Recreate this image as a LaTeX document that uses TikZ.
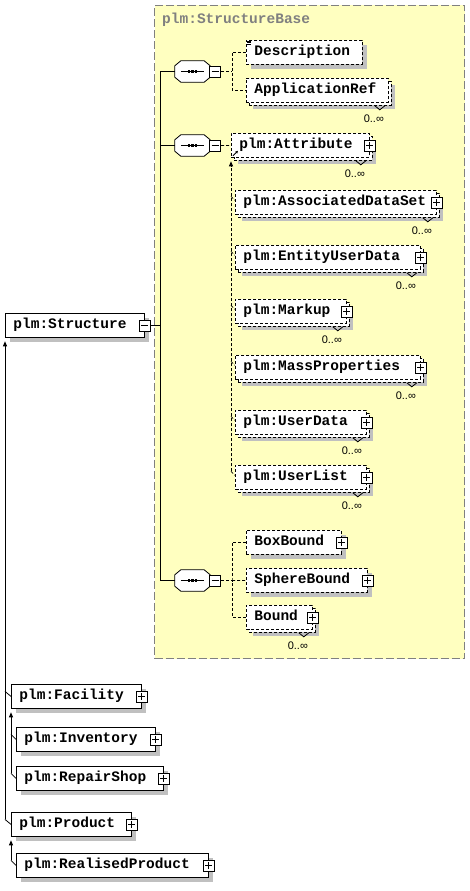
\documentclass[tikz,border=0pt]{standalone}
\usepackage{fontspec}
\usepackage{tikz}
\usetikzlibrary{arrows.meta,positioning,calc,shadows}
\newfontfamily\spymono{Liberation Mono}
\newfontfamily\spysans{Liberation Sans}
\newcommand\elemfont{\spymono\bfseries\fontsize{14.5}{16}\selectfont}
\newcommand\multfont{\spysans\fontsize{11}{12}\selectfont}
\hyphenpenalty=10000
\definecolor{SpyYellow}{HTML}{FFFFC0}
\definecolor{SpyShadow}{HTML}{C0C0C0}
\definecolor{SpyGray}{HTML}{808080}
\tikzset{
  elembase/.style={draw,fill=white,line width=0.8pt,font=\elemfont,text width=#1pt,align=left,inner xsep=8pt,inner ysep=0pt,text height=10.5pt,text depth=3.5pt,minimum height=24pt,anchor=north west},
  elembox/.style={elembase=#1,general shadow={fill=SpyShadow,shadow xshift=5pt,shadow yshift=-5pt}},
  optbox/.style={elembase=#1,dash pattern=on 3pt off 2pt,general shadow={fill=SpyShadow,shadow xshift=5pt,shadow yshift=-5pt}},
  multbox/.style={elembase=#1,dash pattern=on 3pt off 2pt,
    general shadow={fill=SpyShadow,shadow xshift=7pt,shadow yshift=-7pt},
    general shadow={fill=white,draw=black,line width=0.8pt,dash pattern=on 3pt off 2pt,shadow xshift=3pt,shadow yshift=-3pt}},
  seqbox/.style={minimum width=35pt,minimum height=21pt,inner sep=0pt},
  seqedge/.style={draw,fill=white,line width=0.8pt},
  pmbox/.style={draw,fill=white,line width=0.8pt,minimum size=11pt,inner sep=0pt},
  plusbox/.style={pmbox,path picture={\draw[line width=0.8pt] ([xshift=2pt]path picture bounding box.west) -- ([xshift=-2pt]path picture bounding box.east) ([yshift=-2pt]path picture bounding box.north) -- ([yshift=2pt]path picture bounding box.south);}},
  minusbox/.style={pmbox,path picture={\draw[line width=0.8pt] ([xshift=2pt]path picture bounding box.west) -- ([xshift=-2pt]path picture bounding box.east);}},
  basebox/.style={draw=SpyGray,fill=SpyYellow,line width=1pt,dash pattern=on 8pt off 3pt,inner sep=0pt,anchor=north west},
  basetitle/.style={font=\elemfont,text=SpyGray,anchor=base west,inner sep=0pt},
  treelink/.style={line width=0.8pt},
  optlink/.style={line width=0.8pt,dash pattern=on 3pt off 2pt},
  derivarrow/.style={line width=0.8pt,-{Triangle[length=5pt,width=4pt]},shorten >=3.5pt},
  multlabel/.style={font=\multfont,inner sep=0pt}
}
\begin{document}
\begin{tikzpicture}[x=1pt,y=-1pt]
\path[use as bounding box,fill=white] (0,0) rectangle (470,891);
\node[basebox,minimum width=310pt,minimum height=653pt] (base) at (154,5) {};
\node[basetitle] (baseT) at (162,24) {plm:StructureBase};

\node[elembox=123] (struct) at (5,313) {plm:Structure};
\node[minusbox] (struct-m) at (struct.east) {};

\node[seqbox] (seqA) at (192.5,71.5) {};
\node[seqbox] (seqB) at (192.5,145.5) {};
\node[seqbox] (seqC) at (192.5,580.5) {};
\foreach \s in {seqA,seqB,seqC}{
  \fill[SpyShadow,shift={(5,5)}] ([xshift=6]\s.north west) -- ([xshift=-6]\s.north east) -- ([yshift=-5]\s.north east)
    -- ([yshift=5]\s.south east) -- ([xshift=-6]\s.south east) -- ([xshift=6]\s.south west) -- ([yshift=5]\s.south west) -- ([yshift=-5]\s.north west) -- cycle;
  \path[seqedge] ([xshift=6]\s.north west) -- ([xshift=-6]\s.north east) -- ([yshift=-5]\s.north east)
    -- ([yshift=5]\s.south east) -- ([xshift=-6]\s.south east) -- ([xshift=6]\s.south west) -- ([yshift=5]\s.south west) -- ([yshift=-5]\s.north west) -- cycle;
  \draw[line width=0.8pt] ([xshift=6]\s.west) -- ([xshift=-6]\s.east);
  \foreach \d in {-3.5,0,3.5} \fill ([shift={(\d-1.3,-1.3)}]\s.center) rectangle ++(2.6,2.6);
  \node[minusbox,right=-1pt of \s] (\s-m) {};
}

\node[optbox=100] (desc) at (246,40) {Description};
\node[multbox=126] (appref) at (246,78) {ApplicationRef};
\node[multbox=122] (attr) at (231,133) {plm:Attribute};
\node[multbox=185] (assoc) at (235,190) {plm:AssociatedDataSet};
\node[multbox=169] (entity) at (235,245) {plm:EntityUserData};
\node[multbox=95] (markup) at (235,299) {plm:Markup};
\node[multbox=169] (mass) at (235,355) {plm:MassProperties};
\node[multbox=115] (udata) at (235,410) {plm:UserData};
\node[multbox=115] (ulist) at (235,465) {plm:UserList};
\node[optbox=79] (boxb) at (246,530) {BoxBound};
\node[optbox=105] (sphere) at (246,568) {SphereBound};
\node[multbox=50] (bound) at (246,605) {Bound};

\node[elembox=114] (fac) at (11,684) {plm:Facility};
\node[elembox=123] (inv) at (16,727) {plm:Inventory};
\node[elembox=131] (rshop) at (16,766) {plm:RepairShop};
\node[elembox=104] (prod) at (11,812) {plm:Product};
\node[elembox=176] (real) at (16,853) {plm:RealisedProduct};

\foreach \n in {attr,assoc,entity,markup,mass,udata,ulist,boxb,sphere,bound,fac,inv,rshop,prod,real}
  \node[plusbox] (\n-p) at (\n.east) {};
\foreach \n in {appref,attr,assoc,entity,markup,mass,udata,ulist,bound}{
  \draw[line width=0.8pt] ([shift={(-14,3)}]\n.south east) -- ++(5,4) -- ++(5,-4);
  \node[multlabel] (\n-mult) at ([shift={(-15,16)}]\n.south east) {0..∞};
}
\foreach \k in {1,2.5,4} \draw[line width=0.6pt] ([shift={(1,\k)}]desc.north west) -- ++(4,0);
\draw[line width=0.8pt,-{Triangle[length=2.5pt,width=2.5pt]}] ([shift={(2,-2)}]attr.south west) -- ++(5,-5);

\draw[treelink] (seqA.west) -- ++(-14,0) coordinate (spine) |- (seqC.west);
\draw[treelink] (seqB.west) -- (seqB.west -| spine);
\draw[treelink] (struct-m.east) -- (struct-m.east -| spine);

\draw[optlink] (seqA-m.east) -- ++(11,0) coordinate (forkA);
\draw[optlink] (desc.west) -| (forkA) |- (appref.west);
\draw[optlink] (seqB-m.east) -- (attr.west);
\draw[optlink] (seqC-m.east) -- ++(11,0) coordinate (forkC);
\draw[optlink] (boxb.west) -| (forkC) |- (bound.west);
\draw[optlink] (forkC) -- (sphere.west);

\foreach \m in {assoc,entity,markup,mass,udata,ulist}
  \draw[optlink] (\m.west) ++(-4,-6) -- ++(4,4);
\draw[optlink,derivarrow] ([shift={(-4,-6)}]ulist.west) -- (attr.south west);

\draw[treelink] (fac.west) ++(-6,-5) -- ++(6,5);
\draw[treelink] (prod.west) ++(-6,-5) -- ++(6,5);
\draw[derivarrow] ([shift={(-6,-5)}]prod.west) -- (struct.south west);
\foreach \m in {inv,rshop}
  \draw[treelink] (\m.west) ++(-5,-5) -- ++(5,5);
\draw[derivarrow] ([shift={(-5,-5)}]rshop.west) -- (fac.south west);
\draw[treelink] (real.west) ++(-5,-5) -- ++(5,5);
\draw[derivarrow] ([shift={(-5,-5)}]real.west) -- (prod.south west);
\end{tikzpicture}
\end{document}
